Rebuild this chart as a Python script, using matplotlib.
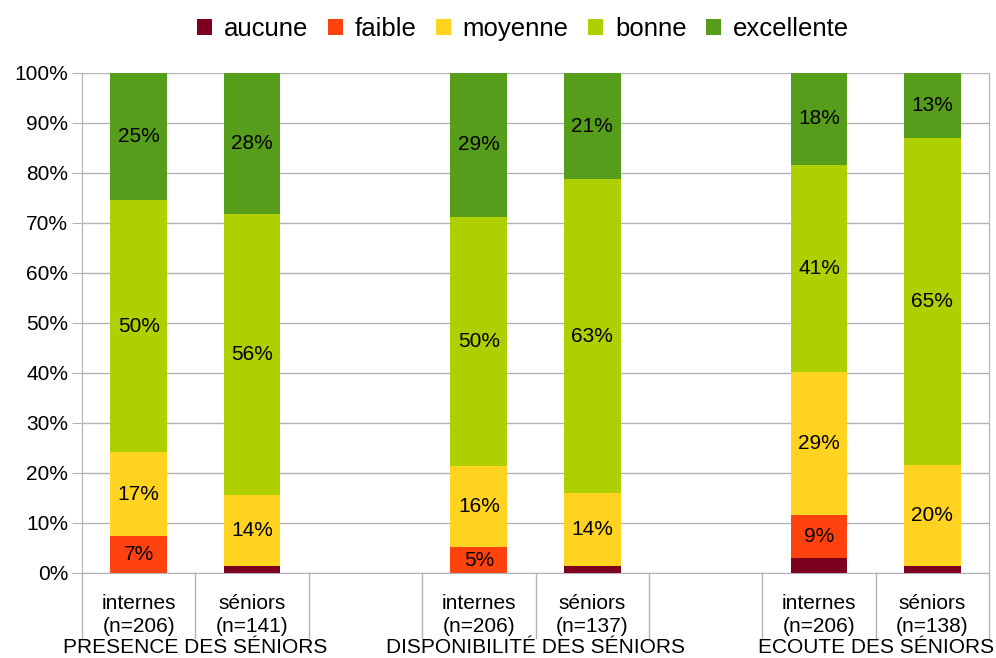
import matplotlib
matplotlib.use("Agg")
import matplotlib.pyplot as plt
from matplotlib.patches import Patch
from matplotlib.transforms import blended_transform_factory
import numpy as np

plt.rcParams['font.family'] = ['Liberation Sans', 'DejaVu Sans']

levels = ["aucune", "faible", "moyenne", "bonne", "excellente"]
colors = ["#7E0021", "#FF420E", "#FFD320", "#AECF00", "#579D1C"]

bar_labels = ["internes\n(n=206)", "séniors\n(n=141)",
              "internes\n(n=206)", "séniors\n(n=137)",
              "internes\n(n=206)", "séniors\n(n=138)"]
group_labels = ["PRESENCE DES SÉNIORS", "DISPONIBILITÉ DES SÉNIORS", "ECOUTE DES SÉNIORS"]

aucune     = [0.0, 1.4, 0.0, 1.5, 3.0, 1.4]
faible     = [7.4, 0.0, 5.2, 0.0, 8.6, 0.0]
moyenne    = [16.8, 14.2, 16.2, 14.5, 28.6, 20.2]
bonne      = [50.4, 56.2, 49.8, 62.8, 41.4, 65.4]
excellente = [25.4, 28.2, 28.8, 21.2, 18.4, 13.0]
series = [aucune, faible, moyenne, bonne, excellente]

positions = [0, 1, 3, 4, 6, 7]

fig = plt.figure(figsize=(9.96, 6.58), dpi=100)
ax = fig.add_axes([82/996, 1-573/658, (989-82)/996, 500/658])

grid_c = "#B3B3B3"
bottom = np.zeros(len(positions))
for name, vals, col in zip(levels, series, colors):
    vals = np.array(vals)
    ax.bar(positions, vals, bottom=bottom, width=0.5, color=col, label=name, zorder=2)
    for x, v, b in zip(positions, vals, bottom):
        if v >= 4.5:
            ax.text(x, b + v/2, f"{round(v):d}%", ha="center", va="center",
                    fontsize=15, color="black", zorder=3)
    bottom += vals

ax.set_xlim(-0.5, 7.5)
ax.set_ylim(0, 100)
ax.set_yticks(np.arange(0, 101, 10))
ax.set_yticklabels([f"{v}%" for v in range(0, 101, 10)], fontsize=15)
ax.yaxis.grid(True, color=grid_c, linewidth=1, zorder=0)
ax.set_axisbelow(True)
ax.tick_params(axis="y", length=7, color=grid_c, pad=3)
ax.set_xticks(positions)
ax.set_xticklabels(bar_labels, fontsize=15, linespacing=1.3)
ax.tick_params(axis="x", length=0, pad=15)
for s in ["left", "right", "bottom"]:
    ax.spines[s].set_color(grid_c)
ax.spines["top"].set_visible(False)

trans = blended_transform_factory(ax.transData, ax.transAxes)
for xs in np.arange(-0.5, 8.0, 1.0):
    ax.plot([xs, xs], [0, -0.13], transform=trans, color=grid_c, lw=1, clip_on=False)

for gx, gl in zip([0.5, 3.5, 6.5], group_labels):
    ax.text(gx, -0.149, gl, transform=trans, ha="center", va="center", fontsize=15)

handles = [Patch(facecolor=c, edgecolor="none", label=l) for l, c in zip(levels, colors)]
fig.legend(handles=handles, loc="center", bbox_to_anchor=(523/996, 1-29/658), ncol=5,
           frameon=False, fontsize=18.5, handlelength=0.6, handleheight=0.6,
           handletextpad=0.45, columnspacing=0.75)

fig.savefig("out.png", dpi=100)
